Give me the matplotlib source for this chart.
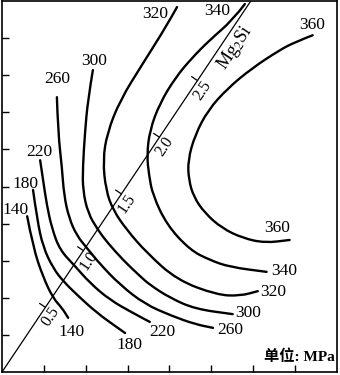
import matplotlib.pyplot as plt
import numpy as np
from matplotlib.path import Path
from matplotlib.patches import PathPatch

plt.rcParams['font.family'] = ['Liberation Serif', 'Noto Sans CJK SC']
plt.rcParams['mathtext.fontset'] = 'stix'

# strength contours (MPa)
levels = [140, 180, 220, 260, 300, 320, 340, 360]

c140_x = [0.60, 0.74, 0.98, 1.22, 1.43, 1.58]
c140_y = [4.20, 3.37, 2.56, 1.99, 1.73, 1.46]

c180_x = [0.74, 0.84, 0.98, 1.22, 1.46, 1.79, 2.27, 2.74, 2.94]
c180_y = [4.91, 4.10, 3.37, 2.80, 2.45, 2.08, 1.59, 1.21, 1.05]

c220_x = [0.91, 0.98, 1.07, 1.19, 1.38, 1.74, 2.10, 2.58, 3.13, 3.53]
c220_y = [5.71, 5.18, 4.50, 3.88, 3.29, 2.86, 2.40, 1.94, 1.59, 1.35]

c260_x = [1.31, 1.34, 1.43, 1.48, 1.60, 1.79, 2.03, 2.34, 2.82, 3.41, 4.06, 4.61, 5.04]
c260_y = [7.41, 6.44, 5.53, 4.77, 4.15, 3.67, 3.34, 2.91, 2.35, 1.83, 1.51, 1.29, 1.19]

c300_x = [2.17, 2.05, 1.98, 1.93, 1.93, 2.05, 2.29, 2.51, 2.89, 3.29, 3.53, 4.01, 4.61, 5.51]
c300_y = [8.14, 7.33, 6.44, 5.53, 4.91, 4.29, 3.83, 3.50, 3.02, 2.59, 2.35, 2.00, 1.70, 1.56]

c320_x = [4.18, 3.94, 3.37, 2.82, 2.51, 2.41, 2.48, 2.65, 2.98, 3.46, 4.18, 5.13, 5.68, 6.11]
c320_y = [9.84, 9.35, 8.33, 7.33, 6.44, 5.71, 4.91, 4.37, 3.83, 3.21, 2.48, 2.08, 2.05, 2.18]

c340_x = [5.80, 5.51, 4.96, 4.53, 4.15, 3.77, 3.53, 3.46, 3.51, 3.60, 3.94, 4.49, 4.96, 5.44, 6.32]
c340_y = [9.92, 9.49, 8.95, 8.46, 7.95, 7.25, 6.52, 5.85, 5.31, 4.77, 3.96, 3.29, 3.02, 2.83, 2.70]

c360_x = [7.42, 6.99, 6.63, 5.97, 5.39, 4.92, 4.61, 4.44, 4.46, 4.58, 4.84, 5.25, 5.75, 6.28, 6.87]
c360_y = [9.08, 8.89, 8.68, 8.19, 7.65, 7.06, 6.39, 5.71, 5.18, 4.72, 4.29, 3.88, 3.61, 3.48, 3.56]

curves_x = [c140_x, c180_x, c220_x, c260_x, c300_x, c320_x, c340_x, c360_x]
curves_y = [c140_y, c180_y, c220_y, c260_y, c300_y, c320_y, c340_y, c360_y]

# where each level is written (upper-left end, lower-right end)
lab_top_x = [0.33, 0.55, 0.88, 1.31, 2.20, 3.65, 5.13, 7.40]
lab_top_y = [4.37, 5.07, 5.93, 7.90, 8.38, 9.65, 9.73, 9.35]
lab_bot_x = [1.65, 3.05, 3.82, 5.44, 5.87, 6.47, 6.75, 6.56]
lab_bot_y = [1.08, 0.73, 1.08, 1.13, 1.59, 2.16, 2.72, 3.88]

# Mg2Si content axis along the diagonal
mg_ticks = [0.5, 1.0, 1.5, 2.0, 2.5]
mg_labels = ['0.5', '1.0', '1.5', '2.0', '2.5']
mg_origin = np.array([0.128, 0.216])
mg_step = np.array([1.816, 3.057])


def mg_point(v):
    return mg_origin + mg_step * v


def smooth_path(xs, ys):
    # quadratic b-spline through the read points (rendering only)
    pts = np.column_stack([xs, ys])
    verts = [pts[0]]
    codes = [Path.MOVETO]
    for i in range(1, len(pts) - 1):
        verts += [pts[i], (pts[i] + pts[i + 1]) / 2]
        codes += [Path.CURVE3, Path.CURVE3]
    verts.append(pts[-1])
    codes.append(Path.LINETO)
    return Path(verts, codes)


fig = plt.figure(figsize=(3.4, 3.75), dpi=100)
ax = fig.add_axes([0.006, 0.008, 0.985, 0.989])
ax.set_xlim(0, 8)
ax.set_ylim(0, 10)

for cx, cy in zip(curves_x, curves_y):
    ax.add_patch(PathPatch(smooth_path(cx, cy), facecolor='none', edgecolor='black',
                           lw=1.7, capstyle='round', joinstyle='round'))

for i, lv in enumerate(levels):
    ax.text(lab_top_x[i], lab_top_y[i], str(lv), fontsize=12.5, ha='center', va='center')
    ax.text(lab_bot_x[i], lab_bot_y[i], str(lv), fontsize=12.5, ha='center', va='center')

# diagonal line
p0 = mg_point(-0.07)
p1 = mg_point(3.2)
ax.plot([p0[0], p1[0]], [p0[1], p1[1]], color='black', lw=0.9)

for v, lab in zip(mg_ticks, mg_labels):
    px, py = mg_point(v)
    ax.annotate('', xy=(px, py), xytext=(-4.2, 2.8), textcoords='offset points',
                arrowprops=dict(arrowstyle='-', lw=0.9, shrinkA=0, shrinkB=0))
    ax.annotate(lab, xy=(px, py), xytext=(3.8, -7.0), textcoords='offset points',
                fontsize=11.5, rotation=56, ha='center', va='center',
                rotation_mode='anchor')

mx, my = mg_point(2.87)
ax.annotate(r'Mg$_2$Si', xy=(mx, my), xytext=(7.0, -7.0), textcoords='offset points',
            fontsize=13, rotation=56, ha='center', va='center', rotation_mode='anchor')

ax.text(7.95, 0.40, '单位: MPa', fontsize=11, ha='right', va='center', fontweight='bold')

ax.set_xticks(np.arange(1, 8))
ax.set_yticks(np.arange(1, 10))
ax.set_xticklabels([])
ax.set_yticklabels([])
ax.tick_params(direction='in', length=5, width=1.0, top=False, right=False)
for s in ax.spines.values():
    s.set_linewidth(1.2)

fig.savefig('out.png', dpi=100)
